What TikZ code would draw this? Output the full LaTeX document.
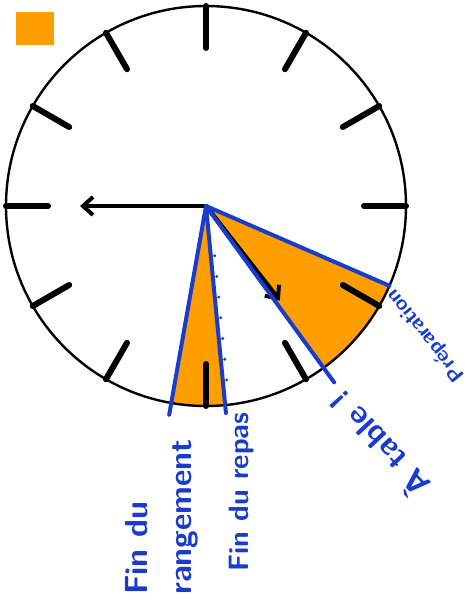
\documentclass[tikz,border=0pt]{standalone}
\usepackage{tikz}
\usetikzlibrary{arrows.meta,calc}
\definecolor{feutre}{RGB}{25,60,205}
\definecolor{orangec}{RGB}{255,158,0}

\begin{document}
\begin{tikzpicture}[
        x=0.5pt,
        y=0.5pt,
        rim/.style={line width=1.2pt},
        hourtick/.style={line width=3pt, line cap=round},
        hand/.style={line width=2.2pt, line cap=round, -{Straight Barb[length=5pt,width=9pt,line width=2pt]}},
        limit/.style={draw=feutre, line width=2pt, line cap=round},
        zone/.style={fill=orangec},
        lab/.style={text=feutre, inner sep=0pt, align=left, font=\sffamily\bfseries\fontsize{#1}{22pt}\selectfont}
    ]
        \useasboundingbox (-206,-401) rectangle (263,206);
        \coordinate (c) at (0,0);
        \coordinate (up) at (-23.5:200);
        \coordinate (tab) at (-54:218);
        \coordinate (rp) at (-84.5:208);
        \coordinate (rg) at (-100:212);
        \coordinate (h1) at (180:126);
        \coordinate (h2) at (-52:120);

        \fill[zone] (c) -- (up) arc[start angle=-23.5, end angle=-54, radius=200] -- cycle;
        \fill[zone] (c) -- (-84.5:200) arc[start angle=-84.5, end angle=-100, radius=200] -- cycle;
        \node[zone, minimum width=19pt, minimum height=16.5pt, inner sep=0pt] (key) at (-171,177.5) {};

        \draw[rim] (c) circle[radius=200];
        \foreach \a in {0,30,...,330}{
            \draw[hourtick] (\a:158) -- (\a:200);
        }
        \draw[hand] (c) -- (h1);
        \draw[hand] (c) -- (h2);

        \foreach \p in {up,tab,rp,rg}{
            \draw[limit] (c) -- (\p);
        }
        \foreach \t in {0.24,0.34,...,0.9}{
            \fill[feutre] ($(c)!\t!(rp)$) ++(4,0) circle[radius=1.6];
        }

        \node[lab=16pt, rotate=90] (rang) at (-44,-311) {Fin du\\rangement};
        \node[lab=14pt, rotate=90] (repas) at (36,-286) {Fin du repas};
        \node[lab=16pt, rotate=133] (table) at (172,-239) {À table !};
        \node[lab=10.5pt, rotate=129] (prep) at (220,-129) {Préparation};
    \end{tikzpicture}
\end{document}
